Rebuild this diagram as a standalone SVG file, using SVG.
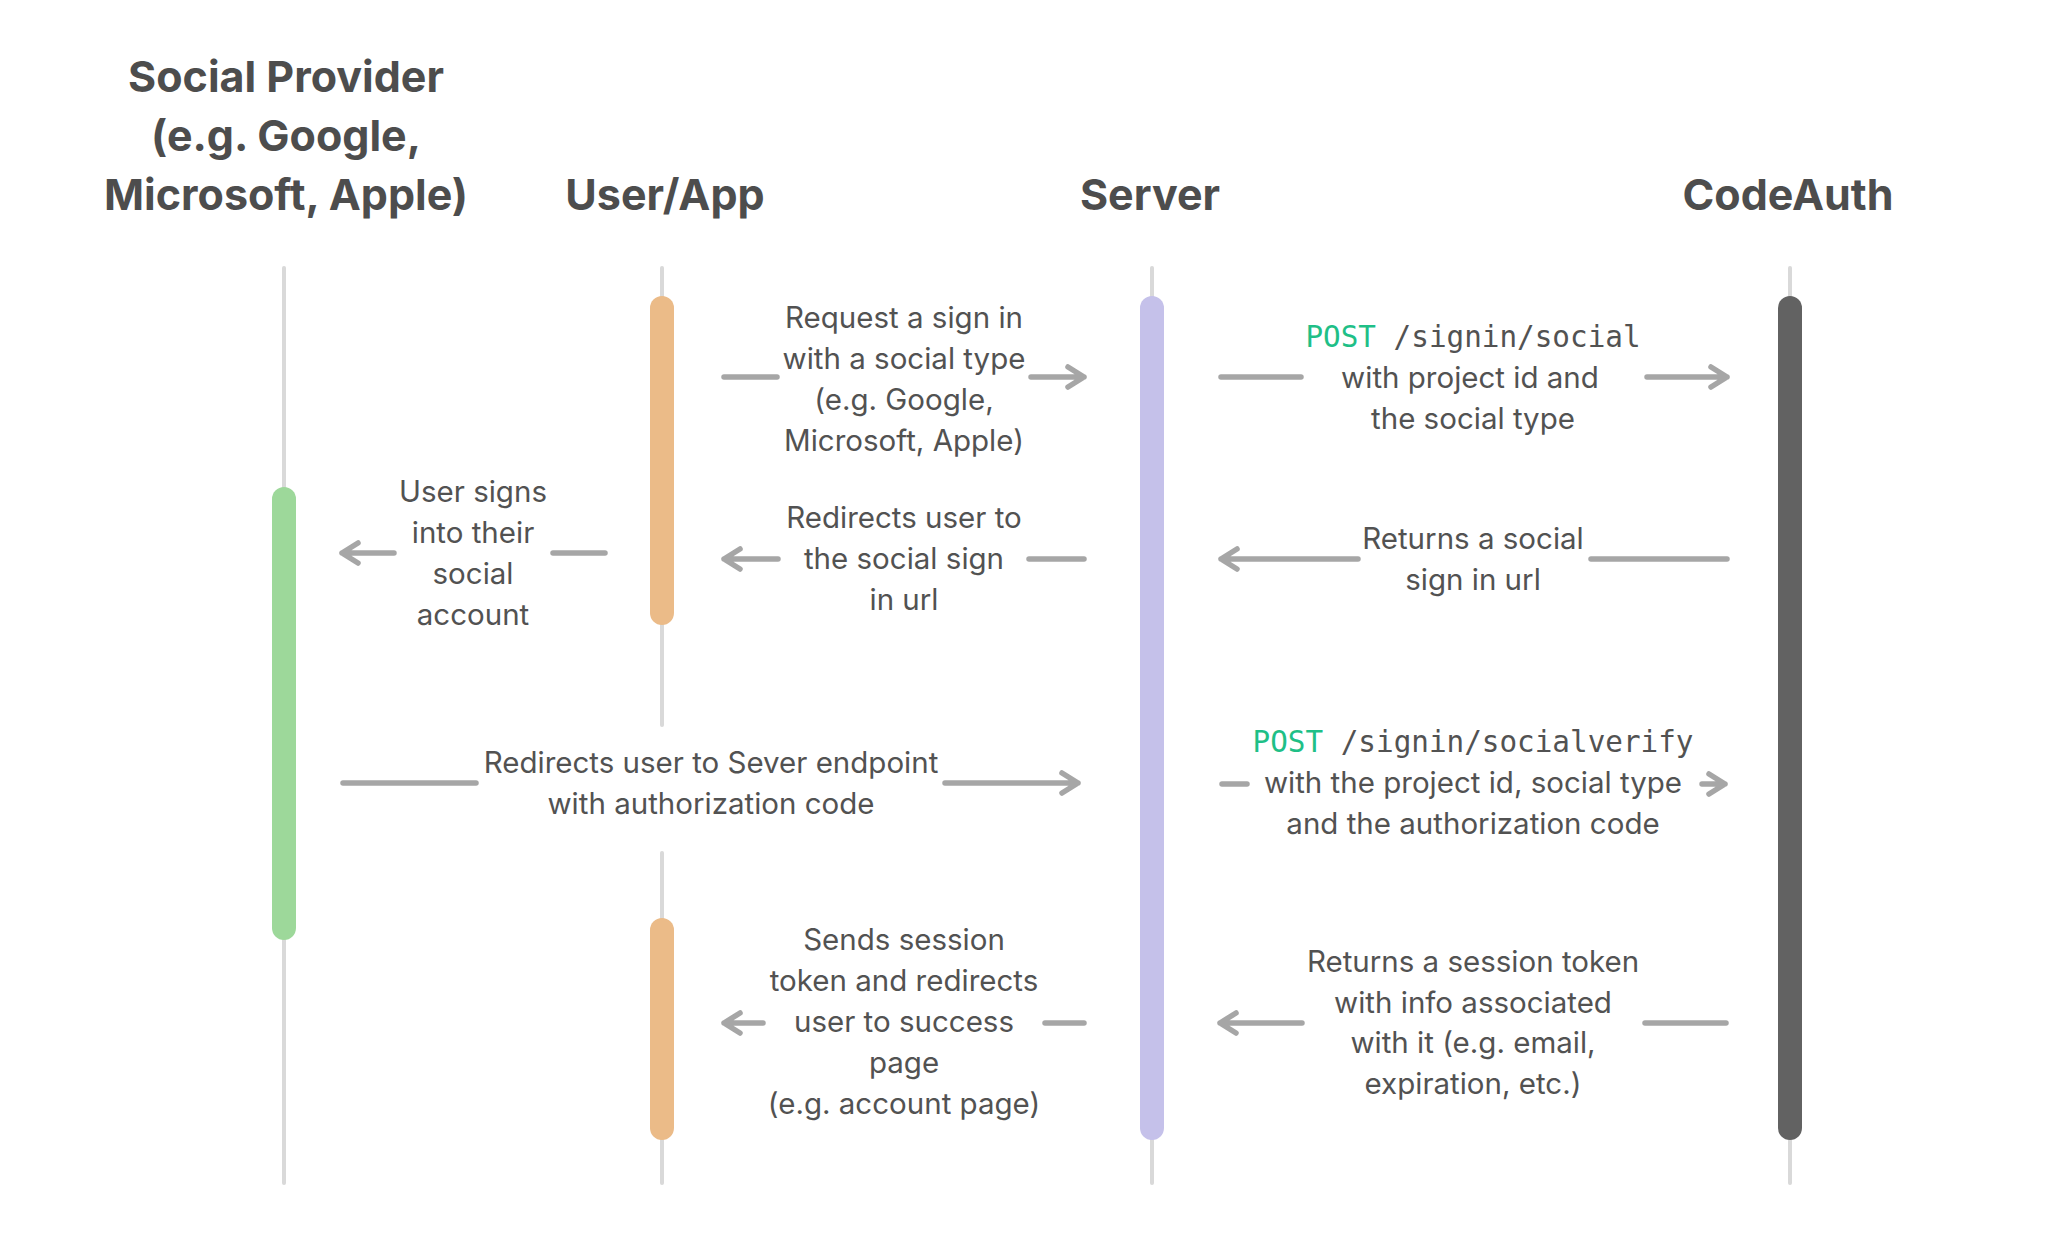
<svg xmlns="http://www.w3.org/2000/svg" width="2048" height="1240" viewBox="0 0 2048 1240">
<defs>
<style>
.hd{font-family:Inter,"Noto Sans",sans-serif;font-weight:700;font-size:43px;fill:#4d4d4d;text-anchor:middle}
.tx{font-family:Inter,"Noto Sans",sans-serif;font-size:29.5px;fill:#525252;text-anchor:middle}
.mono{font-family:"DejaVu Sans Mono","Liberation Mono",monospace;font-size:29.3px;fill:#525252}
.post{fill:#1fbf87}
.life{stroke:#d9d9d9;stroke-width:4;stroke-linecap:round;fill:none}
.ln{stroke:#a6a6a6;stroke-width:5.5;stroke-linecap:round;stroke-linejoin:round;fill:none}
</style>
</defs>
<rect width="2048" height="1240" fill="#ffffff"/>

<g id="social-provider">
<text class="hd" x="286" y="92">Social Provider</text>
<text class="hd" x="286" y="151">(e.g. Google,</text>
<text class="hd" x="286" y="210">Microsoft, Apple)</text>
<line class="life" x1="284" y1="268" x2="284" y2="1183"/>
<rect x="272" y="487" width="24" height="453" rx="12" fill="#9dd89a"/>
</g>

<g id="user-app">
<text class="hd" x="665" y="210">User/App</text>
<line class="life" x1="662" y1="268" x2="662" y2="725"/>
<line class="life" x1="662" y1="853" x2="662" y2="1183"/>
<rect x="650" y="296" width="24" height="329" rx="12" fill="#ebbb88"/>
<rect x="650" y="918" width="24" height="222" rx="12" fill="#ebbb88"/>
</g>

<g id="server">
<text class="hd" x="1150" y="210">Server</text>
<line class="life" x1="1152" y1="268" x2="1152" y2="1183"/>
<rect x="1140" y="296" width="24" height="844" rx="12" fill="#c5c1ea"/>
</g>

<g id="codeauth">
<text class="hd" x="1788" y="210">CodeAuth</text>
<line class="life" x1="1790" y1="268" x2="1790" y2="1183"/>
<rect x="1778" y="296" width="24" height="844" rx="12" fill="#626262"/>
</g>

<g id="connectors">
<line class="ln" x1="724" y1="377" x2="777" y2="377"/>
<path class="ln" d="M1031 377H1084M1068 367L1084 377L1068 387"/>
<path class="ln" d="M778 559H724M740 549L724 559L740 569"/>
<line class="ln" x1="1029" y1="559" x2="1084" y2="559"/>
<line class="ln" x1="1221" y1="377" x2="1301" y2="377"/>
<path class="ln" d="M1647 377H1727M1711 367L1727 377L1711 387"/>
<path class="ln" d="M1358 559H1221M1237 549L1221 559L1237 569"/>
<line class="ln" x1="1591" y1="559" x2="1727" y2="559"/>
<path class="ln" d="M394 553H342M358 543L342 553L358 563"/>
<line class="ln" x1="553" y1="553" x2="605" y2="553"/>
<line class="ln" x1="343" y1="783" x2="476" y2="783"/>
<path class="ln" d="M945 783H1078M1062 773L1078 783L1062 793"/>
<line class="ln" x1="1222" y1="784" x2="1247" y2="784"/>
<path class="ln" d="M1702 784H1725M1709 774L1725 784L1709 794"/>
<path class="ln" d="M1302 1023H1220M1236 1013L1220 1023L1236 1033"/>
<line class="ln" x1="1645" y1="1023" x2="1726" y2="1023"/>
<path class="ln" d="M763 1023H724M740 1013L724 1023L740 1033"/>
<line class="ln" x1="1045" y1="1023" x2="1084" y2="1023"/>
</g>

<g id="labels">
<text class="tx" x="904" y="328">Request a sign in</text>
<text class="tx" x="904" y="369">with a social type</text>
<text class="tx" x="904" y="410">(e.g. Google,</text>
<text class="tx" x="904" y="451">Microsoft, Apple)</text>

<text class="tx" x="904" y="528">Redirects user to</text>
<text class="tx" x="904" y="569">the social sign</text>
<text class="tx" x="904" y="610">in url</text>

<text class="mono" x="1473" y="347" text-anchor="middle"><tspan class="post">POST</tspan> /signin/social</text>
<text class="tx" x="1470" y="388">with project id and</text>
<text class="tx" x="1473" y="429">the social type</text>

<text class="tx" x="1473" y="549">Returns a social</text>
<text class="tx" x="1473" y="590">sign in url</text>

<text class="tx" x="473" y="502">User signs</text>
<text class="tx" x="473" y="543">into their</text>
<text class="tx" x="473" y="584">social</text>
<text class="tx" x="473" y="625">account</text>

<text class="tx" x="711" y="773">Redirects user to Sever endpoint</text>
<text class="tx" x="711" y="814">with authorization code</text>

<text class="mono" x="1473" y="752" text-anchor="middle"><tspan class="post">POST</tspan> /signin/socialverify</text>
<text class="tx" x="1473" y="793">with the project id, social type</text>
<text class="tx" x="1473" y="834">and the authorization code</text>

<text class="tx" x="904" y="950">Sends session</text>
<text class="tx" x="904" y="991">token and redirects</text>
<text class="tx" x="904" y="1032">user to success</text>
<text class="tx" x="904" y="1073">page</text>
<text class="tx" x="904" y="1114">(e.g. account page)</text>

<text class="tx" x="1473" y="972">Returns a session token</text>
<text class="tx" x="1473" y="1013">with info associated</text>
<text class="tx" x="1473" y="1053">with it (e.g. email,</text>
<text class="tx" x="1473" y="1094">expiration, etc.)</text>
</g>
</svg>
